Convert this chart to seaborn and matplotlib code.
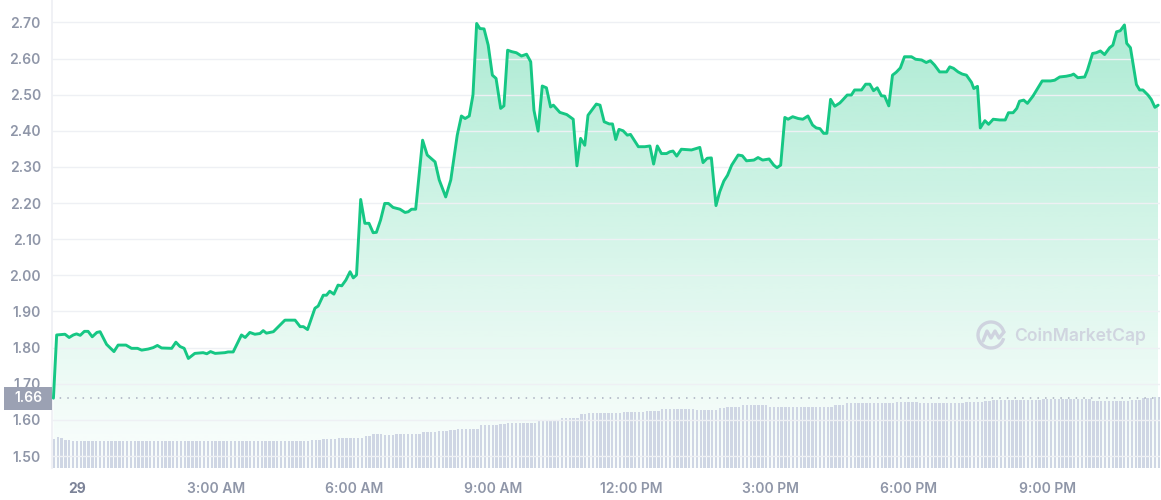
import numpy as np
import pandas as pd
import matplotlib
matplotlib.use("Agg")
import matplotlib.pyplot as plt
import matplotlib.transforms as mtransforms
from matplotlib.patches import Rectangle, PathPatch, Arc
import seaborn as sns

# ---------------- data ----------------
hours = [-0.51, -0.44, -0.26, -0.17, -0.08, -0.01, 0.07, 0.16, 0.24, 0.33, 0.43, 0.50, 0.64, 0.80, 0.89,
         1.06, 1.18, 1.31, 1.40, 1.54, 1.65, 1.74, 1.83, 2.05, 2.14, 2.23, 2.32, 2.41, 2.55, 2.73, 2.81,
         2.89, 2.99, 3.20, 3.27, 3.38, 3.56, 3.64, 3.74, 3.85, 3.96, 4.03, 4.10, 4.25, 4.36, 4.50, 4.72,
         4.83, 4.90, 4.99, 5.15, 5.22, 5.33, 5.40, 5.47, 5.56, 5.65, 5.73, 5.82, 5.91, 5.98, 6.05, 6.14,
         6.23, 6.32, 6.41, 6.48, 6.57, 6.66, 6.74, 6.84, 6.99, 7.10, 7.17, 7.24, 7.33, 7.48, 7.58, 7.75,
         7.84, 7.98, 8.09, 8.23, 8.32, 8.40, 8.49, 8.57, 8.65, 8.72, 8.81, 8.90, 8.99, 9.07, 9.17, 9.24,
         9.32, 9.41, 9.51, 9.62, 9.73, 9.82, 9.89, 9.98, 10.07, 10.16, 10.25, 10.31, 10.45, 10.60, 10.74,
         10.82, 10.90, 10.99, 11.06, 11.17, 11.24, 11.32, 11.41, 11.52, 11.59, 11.66, 11.73, 11.82, 11.91,
         11.98, 12.15, 12.29, 12.40, 12.48, 12.56, 12.65, 12.76, 12.83, 12.90, 12.98, 13.08, 13.30, 13.48,
         13.55, 13.64, 13.73, 13.83, 13.91, 14.00, 14.08, 14.17, 14.31, 14.40, 14.49, 14.65, 14.74, 14.84,
         14.98, 15.08, 15.15, 15.23, 15.32, 15.39, 15.49, 15.61, 15.71, 15.82, 15.92, 16.00, 16.08, 16.16,
         16.23, 16.31, 16.40, 16.51, 16.57, 16.67, 16.76, 16.83, 16.98, 17.07, 17.16, 17.24, 17.32, 17.41,
         17.48, 17.57, 17.65, 17.73, 17.82, 17.91, 18.06, 18.15, 18.28, 18.38, 18.47, 18.56, 18.67, 18.82,
         18.89, 18.97, 19.07, 19.16, 19.25, 19.36, 19.41, 19.49, 19.55, 19.65, 19.73, 19.83, 19.97, 20.09,
         20.16, 20.26, 20.34, 20.40, 20.49, 20.57, 20.69, 20.80, 20.89, 20.98, 21.07, 21.16, 21.27, 21.41,
         21.52, 21.57, 21.66, 21.81, 21.87, 21.98, 22.06, 22.15, 22.24, 22.35, 22.42, 22.50, 22.58, 22.67,
         22.72, 22.80, 22.93, 23.00, 23.07, 23.18, 23.25, 23.33, 23.40]

prices = [1.660, 1.835, 1.837, 1.828, 1.835, 1.838, 1.834, 1.845, 1.845, 1.830, 1.842, 1.844, 1.809, 1.789, 1.807,
          1.807, 1.798, 1.798, 1.793, 1.796, 1.800, 1.806, 1.799, 1.798, 1.815, 1.803, 1.798, 1.770, 1.784, 1.786, 1.783,
          1.789, 1.784, 1.786, 1.788, 1.788, 1.835, 1.828, 1.842, 1.837, 1.839, 1.847, 1.840, 1.844, 1.858, 1.876, 1.876,
          1.858, 1.858, 1.850, 1.909, 1.915, 1.945, 1.945, 1.956, 1.948, 1.973, 1.971, 1.987, 2.010, 1.993, 2.001, 2.210,
          2.144, 2.144, 2.118, 2.119, 2.153, 2.199, 2.199, 2.188, 2.183, 2.174, 2.176, 2.183, 2.183, 2.374, 2.333, 2.314,
          2.264, 2.217, 2.264, 2.388, 2.441, 2.434, 2.441, 2.499, 2.697, 2.683, 2.682, 2.637, 2.554, 2.545, 2.462, 2.469,
          2.623, 2.619, 2.616, 2.607, 2.612, 2.591, 2.457, 2.399, 2.524, 2.519, 2.466, 2.471, 2.451, 2.445, 2.432,
          2.303, 2.379, 2.360, 2.443, 2.462, 2.474, 2.471, 2.425, 2.419, 2.419, 2.376, 2.404, 2.400, 2.388,
          2.390, 2.356, 2.356, 2.358, 2.308, 2.358, 2.337, 2.337, 2.342, 2.344, 2.330, 2.349, 2.347, 2.354,
          2.312, 2.324, 2.325, 2.193, 2.231, 2.261, 2.277, 2.305, 2.333, 2.331, 2.317, 2.319, 2.326, 2.319,
          2.322, 2.305, 2.298, 2.305, 2.437, 2.432, 2.439, 2.434, 2.432, 2.441, 2.416, 2.408, 2.406, 2.393,
          2.393, 2.487, 2.468, 2.477, 2.485, 2.499, 2.499, 2.513, 2.513, 2.529, 2.529, 2.511, 2.519, 2.497,
          2.496, 2.469, 2.554, 2.562, 2.574, 2.605, 2.605, 2.598, 2.596, 2.589, 2.594, 2.582, 2.563, 2.563,
          2.577, 2.573, 2.563, 2.557, 2.554, 2.534, 2.517, 2.523, 2.408, 2.428, 2.418, 2.432, 2.430, 2.430,
          2.450, 2.450, 2.462, 2.482, 2.485, 2.476, 2.496, 2.519, 2.538, 2.538, 2.538, 2.540, 2.549, 2.551,
          2.554, 2.557, 2.547, 2.549, 2.568, 2.614, 2.616, 2.621, 2.611, 2.630, 2.637, 2.674, 2.677, 2.693,
          2.642, 2.630, 2.528, 2.513, 2.513, 2.499, 2.487, 2.465, 2.471]

# 24h volume (relative units), 5-minute bars, given as levels and run lengths
vol_levels = [29.0, 31.6, 30.6, 28.0, 28.0, 27.3, 27.0, 27.5, 27.0, 28.0, 29.5, 30.6, 32.6, 34.0, 33.5,
              34.5, 36.0, 37.0, 38.3, 39.6, 43.0, 44.3, 45.0, 47.6, 50.6, 54.0, 55.0, 56.0, 57.0, 59.0,
              59.6, 58.6, 60.3, 61.6, 63.0, 61.0, 61.6, 63.3, 65.6, 66.6, 65.6, 66.6, 67.6, 68.6, 69.8,
              67.0, 68.3, 70.0, 71.0]
vol_counts = [1, 1, 1, 1, 1, 1, 45, 6, 10, 3, 4, 7, 2, 3, 3,
              7, 4, 3, 2, 6, 5, 2, 8, 6, 5, 2, 9, 6, 4, 2,
              7, 6, 2, 4, 7, 6, 11, 3, 13, 6, 12, 5, 2, 13, 13,
              10, 3, 3, 2]
vol_start_hour = -0.5
vol_step_minutes = 5

y_ticks = [1.50, 1.60, 1.70, 1.80, 1.90, 2.00, 2.10, 2.20, 2.30, 2.40, 2.50, 2.60, 2.70]
x_tick_hours = [0, 3, 6, 9, 12, 15, 18, 21]
x_tick_labels = ["29", "3:00 AM", "6:00 AM", "9:00 AM", "12:00 PM", "3:00 PM", "6:00 PM", "9:00 PM"]
ref_price = 1.66

# ---------------- style ----------------
sns.set_theme(style="white")
plt.rcParams['font.family'] = ['Inter', 'DejaVu Sans']

GREEN = "#16c784"
LABEL = "#8f96a8"
GRID = "#eef0f4"
BAR = "#cfd6e4"

W, H = 1161, 500
fig = plt.figure(figsize=(W / 100, H / 100), dpi=100)
fig.patch.set_facecolor("white")
left_px, right_px, bottom_px = 52, 1160, 468.3
rect = [left_px / W, (H - bottom_px) / H, (right_px - left_px) / W, bottom_px / H]
axes_h_px = bottom_px

ax_bg = fig.add_axes(rect)
ax_vol = fig.add_axes(rect)
ax = fig.add_axes(rect)
for a in (ax_bg, ax_vol, ax):
    a.set_xlim(-0.541, 23.44)
    for s in a.spines.values():
        s.set_visible(False)
ax_vol.patch.set_alpha(0)
ax.patch.set_alpha(0)
ylim = (1.466, 2.762)
ax_bg.set_ylim(*ylim)
ax.set_ylim(*ylim)
ax_bg.set_xticks([]); ax_bg.set_yticks([])
ax_vol.set_xticks([]); ax_vol.set_yticks([])

df = pd.DataFrame({"hour": hours, "price": prices})

# gradient fill under the price line
poly = ax_bg.fill_between(df["hour"], df["price"], ylim[0], color="none", lw=0)
path = poly.get_paths()[0]
n = 256
rgba = np.zeros((n, 1, 4))
rgba[..., :3] = matplotlib.colors.to_rgb(GREEN)
t = np.linspace(0, 1, n)  # 0 bottom -> 1 top
rgba[:, 0, 3] = 0.02 + 0.33 * t ** 1.1
top = max(prices)
im = ax_bg.imshow(rgba, extent=[min(hours), max(hours), ylim[0], top], origin="lower",
                  aspect="auto", interpolation="bilinear", zorder=1)
clip = PathPatch(path, transform=ax_bg.transData, facecolor="none", edgecolor="none")
ax_bg.add_patch(clip)
im.set_clip_path(clip)
ax_bg.set_xlim(-0.541, 23.44)
ax_bg.set_ylim(*ylim)

# volume bars
vols = np.repeat(vol_levels, vol_counts)
vol_hours = vol_start_hour + np.arange(len(vols)) * vol_step_minutes / 60
ax_vol.bar(vol_hours, vols, width=0.052, color=BAR, linewidth=0)
ax_vol.set_ylim(0, axes_h_px)

# price line
sns.lineplot(data=df, x="hour", y="price", ax=ax, color=GREEN, linewidth=2.1,
             estimator=None, sort=False, zorder=4)
ax.axhline(ref_price, color="#a9afbf", lw=1.1, ls=(0, (1, 4)), zorder=3)

ax.set_yticks(y_ticks)
ax.set_yticklabels([f"{v:.2f}" for v in y_ticks])
ax.grid(axis="y", color=GRID, lw=1, zorder=0)
ax.grid(axis="x", visible=False)
ax.spines["left"].set_visible(True)
ax.spines["left"].set_color(GRID)
ax.set_xticks(x_tick_hours)
ax.set_xticklabels(x_tick_labels)
ax.set_xlabel(""); ax.set_ylabel("")
ax.tick_params(axis="y", length=0, pad=8, labelsize=10, labelcolor=LABEL)
ax.tick_params(axis="x", length=3, width=1, color="#9aa0b2", pad=7, labelsize=10, labelcolor=LABEL,
               direction="out")
for lab in ax.get_yticklabels() + ax.get_xticklabels():
    lab.set_fontweight("semibold")
ax.get_xticklabels()[0].set_fontweight("bold")
ax.get_xticklabels()[0].set_color("#7c8398")

# current-price tag
blend = mtransforms.blended_transform_factory(fig.transFigure, ax.transData)
box_h = 23 / 361.4
ax.add_patch(Rectangle((4 / W, ref_price - box_h / 2), 48 / W, box_h, transform=blend,
                       facecolor="#9ba1b3", edgecolor="none", clip_on=False, zorder=10))
ax.text(28 / W, ref_price, f"{ref_price:.2f}", transform=blend, ha="center", va="center",
        color="white", fontsize=10, fontweight="semibold", zorder=11, clip_on=False)

# watermark
WM = "#cfd3df"
fig.text(1014 / W, (H - 336) / H, "CoinMarketCap", color=WM, fontsize=12.6,
         fontweight="semibold", ha="left", va="center", alpha=0.95)
cx, cy, r = 991, H - 335, 13
fig.add_artist(Arc((cx / W, cy / H), 2 * r / W, 2 * r / H, theta1=20, theta2=330,
                   transform=fig.transFigure, color=WM, lw=2.4))
zx = np.array([983, 987, 991, 995, 999, 1004]) / W
zy = (H - np.array([341, 331, 338, 331, 338, 332])) / H
fig.add_artist(plt.Line2D(zx, zy, transform=fig.transFigure, color=WM, lw=2.4,
                          solid_joinstyle="round", solid_capstyle="round"))

fig.savefig("out.png", dpi=100, facecolor="white")
